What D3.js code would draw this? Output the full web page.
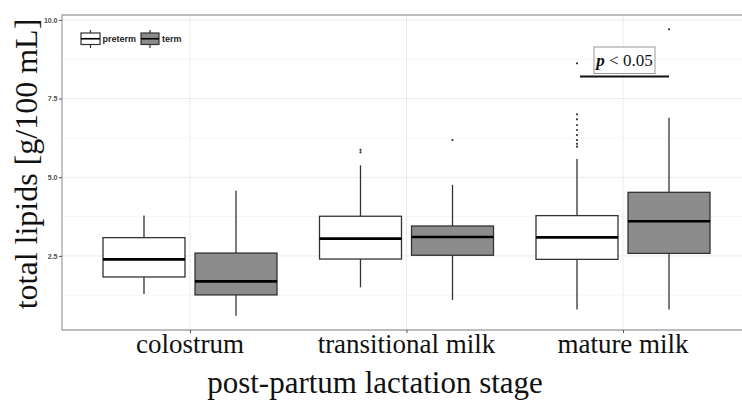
<!DOCTYPE html>
<html>
<head>
<meta charset="utf-8">
<script src="https://cdn.jsdelivr.net/npm/d3@7"></script>
<style>
  body { margin: 0; background: #fff; }
  .serif { font-family: "Liberation Serif", serif; fill: #111; }
  .tick text { font: bold 7px "Liberation Sans", Arial, sans-serif; fill: #4d4d4d; }
  .legend text { font: bold 9px "Liberation Sans", Arial, sans-serif; fill: #222; }
</style>
</head>
<body>
<script>
var stages = ["colostrum", "transitional milk", "mature milk"];
var groups = ["preterm", "term"];
var yTicks = [2.5, 5.0, 7.5, 10.0];
var yMinor = [1.25, 3.75, 6.25, 8.75];

// five-number summaries, one value per stage
var pretermLow    = [1.29, 1.50, 0.80];
var pretermQ1     = [1.83, 2.40, 2.39];
var pretermMedian = [2.39, 3.05, 3.09];
var pretermQ3     = [3.08, 3.76, 3.78];
var pretermHigh   = [3.78, 5.38, 5.58];
var termLow    = [0.60, 1.10, 0.80];
var termQ1     = [1.26, 2.52, 2.58];
var termMedian = [1.69, 3.10, 3.60];
var termQ3     = [2.59, 3.45, 4.52];
var termHigh   = [4.57, 4.76, 6.89];
var pretermOutliers = [[], [5.79, 5.87], [5.97, 6.06, 6.18, 6.34, 6.50, 6.66, 6.84, 7.00, 8.62]];
var termOutliers = [[], [6.18], [9.70]];

var fills = { preterm: "#ffffff", term: "#8c8c8c" };

var boxes = [];
stages.forEach(function(s, i) {
  boxes.push({ stage: s, group: "preterm", low: pretermLow[i], q1: pretermQ1[i], med: pretermMedian[i], q3: pretermQ3[i], high: pretermHigh[i], out: pretermOutliers[i] });
  boxes.push({ stage: s, group: "term", low: termLow[i], q1: termQ1[i], med: termMedian[i], q3: termQ3[i], high: termHigh[i], out: termOutliers[i] });
});

var svg = d3.select("body").append("svg")
  .attr("width", 742)
  .attr("height", 401);

// panel edges ('top' is taken by window.top, hence the prefix)
var pLeft = 62, pTop = 15, pBottom = 330, pRight = 760;

var x = d3.scalePoint().domain(stages).range([190, 623]);
var xg = d3.scaleBand().domain(groups).range([-87, 87]).paddingInner(0.109);
var y = d3.scaleLinear().domain([0.145, 10.155]).range([pBottom, pTop]);

var g = svg.append("g");

// grid
g.selectAll(".minor").data(yMinor).enter().append("line")
  .attr("x1", pLeft).attr("x2", pRight)
  .attr("y1", d => y(d)).attr("y2", d => y(d))
  .attr("stroke", "#f4f4f4").attr("stroke-width", 0.8);
g.selectAll(".major").data(yTicks).enter().append("line")
  .attr("x1", pLeft).attr("x2", pRight)
  .attr("y1", d => y(d)).attr("y2", d => y(d))
  .attr("stroke", "#ebebeb").attr("stroke-width", 1);
g.selectAll(".vgrid").data(stages).enter().append("line")
  .attr("x1", d => x(d)).attr("x2", d => x(d))
  .attr("y1", pTop).attr("y2", pBottom)
  .attr("stroke", "#ebebeb").attr("stroke-width", 1);

// boxes
var bw = xg.bandwidth();
var b = g.selectAll(".box").data(boxes).enter().append("g")
  .attr("transform", d => "translate(" + (x(d.stage) + xg(d.group)) + ",0)");

b.append("line")
  .attr("x1", bw / 2).attr("x2", bw / 2)
  .attr("y1", d => y(d.high)).attr("y2", d => y(d.q3))
  .attr("stroke", "#333").attr("stroke-width", 1.3);
b.append("line")
  .attr("x1", bw / 2).attr("x2", bw / 2)
  .attr("y1", d => y(d.q1)).attr("y2", d => y(d.low))
  .attr("stroke", "#333").attr("stroke-width", 1.3);
b.append("rect")
  .attr("x", 0).attr("width", bw)
  .attr("y", d => y(d.q3)).attr("height", d => y(d.q1) - y(d.q3))
  .attr("fill", d => fills[d.group])
  .attr("stroke", "#333").attr("stroke-width", 1.3);
b.append("line")
  .attr("x1", 0).attr("x2", bw)
  .attr("y1", d => y(d.med)).attr("y2", d => y(d.med))
  .attr("stroke", "#000").attr("stroke-width", 2.6);
b.selectAll(".pt").data(d => d.out).enter().append("circle")
  .attr("cx", bw / 2).attr("cy", d => y(d)).attr("r", 1.1)
  .attr("fill", "#333");

// panel border (right side is cut off in the figure)
g.append("path")
  .attr("d", "M" + pRight + "," + pTop + "H" + pLeft + "V" + pBottom + "H" + pRight)
  .attr("fill", "none").attr("stroke", "#a6a6a6").attr("stroke-width", 1.3);

// axes
var yAxis = svg.append("g").attr("transform", "translate(" + pLeft + ",0)")
  .call(d3.axisLeft(y).tickValues(yTicks).tickFormat(d3.format(".1f")).tickSize(3).tickPadding(1.5));
yAxis.select(".domain").remove();
yAxis.selectAll(".tick line").attr("stroke", "#555");

var xAxis = svg.append("g").attr("transform", "translate(0," + pBottom + ")")
  .call(d3.axisBottom(x).tickSize(3).tickFormat(""));
xAxis.select(".domain").remove();
xAxis.selectAll(".tick line").attr("stroke", "#555");

svg.selectAll(".xlab").data(stages).enter().append("text")
  .attr("class", "serif")
  .attr("x", d => x(d)).attr("y", 353)
  .attr("text-anchor", "middle")
  .style("font-size", "27px")
  .text(d => d);

svg.append("text").attr("class", "serif")
  .attr("x", 375).attr("y", 393)
  .attr("text-anchor", "middle")
  .style("font-size", "31px")
  .text("post-partum lactation stage");

svg.append("text").attr("class", "serif")
  .attr("transform", "translate(37,164) rotate(-90)")
  .attr("text-anchor", "middle")
  .style("font-size", "32px")
  .text("total lipids [g/100 mL]");

// legend
var legend = svg.append("g").attr("class", "legend");
var keyX = [81, 141];
var keyW = [19, 18];
var textX = [102.5, 162];
groups.forEach(function(grp, i) {
  var k = legend.append("g").attr("transform", "translate(" + keyX[i] + ",0)");
  k.append("line").attr("x1", keyW[i] / 2).attr("x2", keyW[i] / 2).attr("y1", 30).attr("y2", 48)
    .attr("stroke", "#333").attr("stroke-width", 1.2);
  k.append("rect").attr("x", 0).attr("y", 33).attr("width", keyW[i]).attr("height", 11.5)
    .attr("fill", fills[grp]).attr("stroke", "#333").attr("stroke-width", 1.2);
  k.append("line").attr("x1", 0).attr("x2", keyW[i]).attr("y1", 38.75).attr("y2", 38.75)
    .attr("stroke", "#000").attr("stroke-width", 1.6);
  legend.append("text").attr("x", textX[i]).attr("y", 42).text(grp);
});

// significance bracket
var ms = "mature milk";
var bx1 = x(ms) + xg("preterm") + bw / 2, bx2 = x(ms) + xg("term") + bw / 2;
svg.append("line")
  .attr("x1", bx1 + 3).attr("x2", bx2)
  .attr("y1", 76.5).attr("y2", 76.5)
  .attr("stroke", "#111").attr("stroke-width", 2);
svg.append("rect")
  .attr("x", 594).attr("y", 47).attr("width", 61).attr("height", 26.5)
  .attr("fill", "#fff").attr("stroke", "#999").attr("stroke-width", 1);
var pt = svg.append("text").attr("class", "serif")
  .attr("x", 624.5).attr("y", 66)
  .attr("text-anchor", "middle")
  .style("font-size", "17px");
pt.append("tspan").style("font-style", "italic").style("font-weight", "bold").text("p");
pt.append("tspan").text(" < 0.05");
</script>
</body>
</html>
